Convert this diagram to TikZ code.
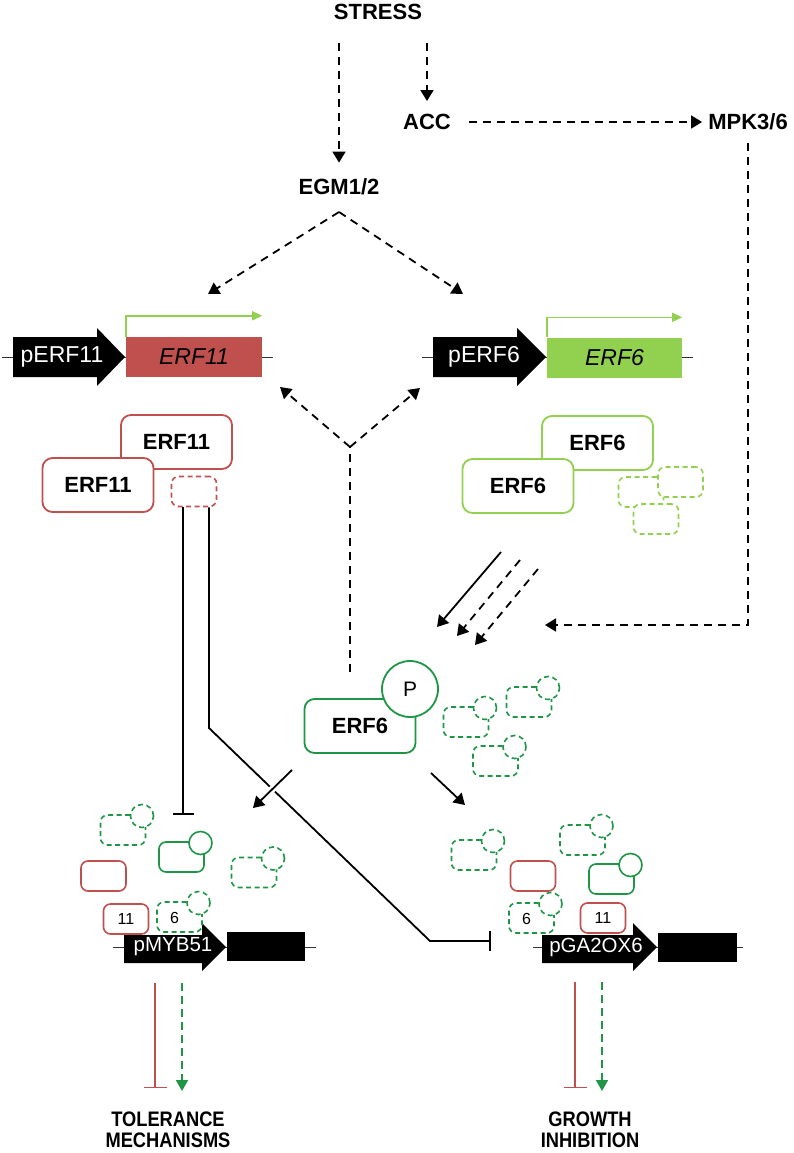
\documentclass[tikz,border=0pt]{standalone}
\usepackage{fontspec}
\setmainfont{Liberation Sans}
\newfontfamily\narrowfont[FakeStretch=0.87]{Liberation Sans}
\usetikzlibrary{arrows.meta}
\definecolor{erfred}{RGB}{192,80,77}
\definecolor{lgreen}{RGB}{146,208,80}
\definecolor{dgreen}{RGB}{30,150,70}
\newcommand\ptgroup[4]{%
  \node[smallbox, draw=dgreen, #4] (#1) at (#2,#3) {};
  \node[smallcirc, draw=dgreen, #4] (#1c) at (#2+19,#3-14) {};
}
\begin{document}
\begin{tikzpicture}[x=1pt,y=-1pt,
  lab/.style={font=\bfseries\fontsize{22}{26}\selectfont, inner sep=1pt},
  ed/.style={line width=1.8pt, dash pattern=on 8pt off 6pt, -{Triangle[length=11pt,width=13pt]}},
  edplain/.style={line width=1.8pt, dash pattern=on 8pt off 6pt},
  sd/.style={line width=1.8pt, -{Triangle[length=11pt,width=13pt]}},
  bigbox/.style={rectangle, rounded corners=10pt, line width=1.8pt, fill=white, minimum width=111pt, minimum height=54pt, inner sep=0pt, font=\bfseries\fontsize{22}{26}\selectfont},
  smallbox/.style={rectangle, rounded corners=7pt, line width=1.6pt, fill=white, minimum width=45pt, minimum height=30pt, inner sep=0pt},
  smallcirc/.style={circle, line width=1.6pt, fill=white, minimum size=23pt, inner sep=0pt},
  dsh/.style={dash pattern=on 5pt off 3.5pt},
  promtext/.style={text=white, font=\fontsize{23}{26}\selectfont, inner sep=0pt},
  promtextsm/.style={text=white, font=\fontsize{20.5}{24}\selectfont, inner sep=0pt},
  numtext/.style={font=\fontsize{16}{18}\selectfont, inner sep=0pt},
  dna/.style={line width=0.9pt, black!80},
  tss/.style={lgreen, line width=1.5pt, -{Triangle[length=10pt,width=9pt]}},
  inh/.style={line width=1.8pt, -{Bar[width=21pt,line width=1.8pt]}},
  outlab/.style={font=\narrowfont\bfseries\fontsize{21}{21.5}\selectfont, align=center, inner sep=0pt},
]
\useasboundingbox (0,0) rectangle (793,1153);

% ---------- top signalling ----------
\node[lab] (stress) at (378,12) {STRESS};
\node[lab] (acc) at (427,122) {ACC};
\node[lab] (mpk) at (748,122) {MPK3/6};
\node[lab] (egm) at (339,187) {EGM1/2};
\coordinate (s1) at ([yshift=-22pt]stress.south);
\draw[ed] (s1 -| egm) -- ([yshift=15pt]egm.north);
\draw[ed] (s1 -| acc) -- ([yshift=12pt]acc.north);
\draw[ed] ([xshift=17pt]acc.east) -- ([xshift=-5pt]mpk.west);

\coordinate (apex) at (339,212);
\coordinate (t11) at (208,294);
\coordinate (t6) at (463,294);
\draw[ed] (apex) -- (t11);
\draw[ed] (apex) -- (t6);

% ---------- gene constructs ----------
\draw[dna] (2,357) -- (273,357);
\fill[black] (13,337) -- (97,337) -- (97,328) -- (125,357) -- (97,386) -- (97,377) -- (13,377) -- cycle;
\node[promtext] (perf11) at (62,357) {pERF11};
\node[fill=erfred, minimum width=136pt, minimum height=40pt, inner sep=0pt, font=\itshape\fontsize{23}{26}\selectfont] (erf11g) at (194,357) {ERF11};
\draw[tss] (erf11g.north west) -- ++(0,-21) -- ([yshift=21pt]erf11g.north east);

\draw[dna] (422,357) -- (693,357);
\fill[black] (433,337) -- (517,337) -- (517,328) -- (546,357) -- (517,386) -- (517,377) -- (433,377) -- cycle;
\node[promtext] (perf6) at (484,357) {pERF6};
\node[fill=lgreen, minimum width=135pt, minimum height=40pt, inner sep=0pt, font=\itshape\fontsize{23}{26}\selectfont] (erf6g) at (614.5,357.5) {ERF6};
\draw[tss] (erf6g.north west) -- ++(0,-20) -- ([yshift=20pt]erf6g.north east);

% ---------- Y connector ----------
\coordinate (ybase) at (350,672);
\coordinate (yfork) at (350,447);
\coordinate (yl) at (280,387);
\coordinate (yr) at (420,388);
\draw[edplain] (ybase) -- (yfork);
\draw[ed] (yfork) -- (yl);
\draw[ed] (yfork) -- (yr);

% ---------- ERF11 proteins ----------
\node[bigbox, draw=erfred] (e11b) at (176.5,442) {ERF11};
\node[bigbox, draw=erfred] (e11f) at (98,485) {ERF11};
\node[smallbox, draw=erfred, dsh] (e11d) at (194,491.5) {};

% ---------- ERF6 proteins ----------
\node[bigbox, draw=lgreen] (e6b) at (597.5,443) {ERF6};
\node[bigbox, draw=lgreen] (e6f) at (518,486) {ERF6};
\node[smallbox, draw=lgreen, dsh] (e6d1) at (641,492) {};
\node[smallbox, draw=lgreen, dsh] (e6d2) at (680.5,482) {};
\node[smallbox, draw=lgreen, dsh] (e6d3) at (656,519) {};

% ---------- phosphorylation arrows ----------
\coordinate (a1s) at (501,552); \coordinate (a1e) at (437,627);
\coordinate (a2s) at (520,560); \coordinate (a2e) at (457,636);
\coordinate (a3s) at (538,569); \coordinate (a3e) at (475,645);
\draw[sd] (a1s) -- (a1e);
\draw[ed] (a2s) -- (a2e);
\draw[ed] (a3s) -- (a3e);
\coordinate (m1) at ([yshift=-12pt]mpk.south);
\coordinate (mend) at (545,625);
\draw[ed] (m1) |- (mend);

% ---------- ERF6-P ----------
\node[bigbox, draw=dgreen] (e6p) at (360,726) {ERF6};
\node[circle, draw=dgreen, line width=1.8pt, fill=white, minimum size=56pt, inner sep=0pt, font=\fontsize{21}{24}\selectfont] (pc) at (410,689) {P};
\ptgroup{g1}{466}{722}{dsh}
\ptgroup{g2}{529}{702}{dsh}
\ptgroup{g3}{495.5}{761}{dsh}

% ---------- ERF11 repression lines ----------
\coordinate (i1s) at ([xshift=-11pt]e11d.south);
\coordinate (i1e) at (183,815);
\draw[inh] (i1s) -- (i1e);
\coordinate (i2s) at ([xshift=15pt]e11d.south);
\coordinate (i2a) at (209,728);
\coordinate (i2b) at (430,941);
\coordinate (i2e) at (491,941);
\draw[line width=1.8pt, -{Bar[width=20pt,line width=1.8pt]}] (i2s) -- (i2a) -- (i2b) -- (i2e);

% ---------- ERF6-P activation arrows ----------
\coordinate (l1s) at (292,770); \coordinate (l1e) at (253,808);
\coordinate (r1s) at (431,773); \coordinate (r1e) at (465,805);
\draw[sd, preaction={draw=white, line width=7pt, arrows=-}] (l1s) -- (l1e);
\draw[sd] (r1s) -- (r1e);

% ---------- pMYB51 construct ----------
\draw[dna] (113,947) -- (316,947);
\fill[black] (124,935) -- (202,935) -- (202,923) -- (226,947) -- (202,971) -- (202,963) -- (124,963) -- cycle;
\node[promtextsm] (pmyb) at (173,947) {pMYB51};
\node[fill=black, minimum width=78pt, minimum height=29pt, inner sep=0pt] (myb) at (266,946.5) {};

\ptgroup{gBL1}{123}{830}{dsh}
\ptgroup{gBL2}{181.5}{857}{}
\ptgroup{gBL3}{254}{872.5}{dsh}
\ptgroup{gBL6}{179.5}{917}{dsh}
\node[numtext] (sixL) at (174.5,918) {6};
\node[smallbox, draw=erfred] (rBL) at (103.5,876) {};
\node[smallbox, draw=erfred, font=\fontsize{16}{18}\selectfont] (r11L) at (126,919) {11};

% ---------- pGA2OX6 construct ----------
\draw[dna] (533,947) -- (743,947);
\fill[black] (542,935) -- (633,935) -- (633,923) -- (657,947) -- (633,971) -- (633,963) -- (542,963) -- cycle;
\node[promtextsm] (pga) at (596,947) {pGA2OX6};
\node[fill=black, minimum width=79pt, minimum height=29pt, inner sep=0pt] (ga) at (697.5,947.5) {};

\ptgroup{gBR1}{474}{855}{dsh}
\ptgroup{gBR2}{582.5}{840}{dsh}
\ptgroup{gBR3}{611.5}{879}{}
\ptgroup{gBR6}{531.5}{918}{dsh}
\node[numtext] (sixR) at (526.5,919) {6};
\node[smallbox, draw=erfred] (rBR) at (533,876) {};
\node[smallbox, draw=erfred, font=\fontsize{16}{18}\selectfont] (r11R) at (603,918) {11};

% ---------- outputs ----------
\node[outlab] (tol) at (168,1130) {TOLERANCE\\MECHANISMS};
\node[outlab] (grow) at (590,1130) {GROWTH\\INHIBITION};
\coordinate (bl1s) at (155,983); \coordinate (bl1e) at (155,1088);
\coordinate (bl2s) at (182,983); \coordinate (bl2e) at (182,1091);
\coordinate (br1s) at (575,982); \coordinate (br1e) at (575,1088);
\coordinate (br2s) at (602,982); \coordinate (br2e) at (602,1091);
\draw[erfred, line width=1.4pt, -{Bar[width=23pt,line width=1.4pt]}] (bl1s) -- (bl1e);
\draw[dgreen, line width=1.6pt, dash pattern=on 8pt off 5pt, -{Triangle[length=11pt,width=12pt]}] (bl2s) -- (bl2e);
\draw[erfred, line width=1.4pt, -{Bar[width=23pt,line width=1.4pt]}] (br1s) -- (br1e);
\draw[dgreen, line width=1.6pt, dash pattern=on 8pt off 5pt, -{Triangle[length=11pt,width=12pt]}] (br2s) -- (br2e);
\end{tikzpicture}
\end{document}
